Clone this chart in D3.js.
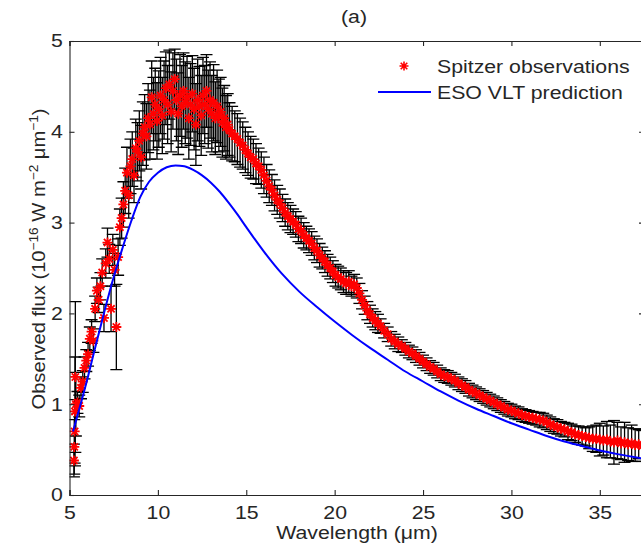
<!DOCTYPE html>
<html>
<head>
<meta charset="utf-8">
<script src="https://cdn.jsdelivr.net/npm/d3@7"></script>
<style>
  html, body { margin: 0; padding: 0; background: #fff; overflow: hidden; }
  svg { display: block; font-family: "Liberation Sans", Arial, Helvetica, sans-serif; }
</style>
</head>
<body>
<svg id="chart" width="641" height="551"></svg>
<script>
// ---------------- DATA ----------------
const title = "(a)";
const xLabel = "Wavelength (\u03bcm)";
const legendLabels = ["Spitzer observations", "ESO VLT prediction"];
const xTicks = [5, 10, 15, 20, 25, 30, 35];
const yTicks = [0, 1, 2, 3, 4, 5];

// Spitzer observations: wavelength (um), flux (1e-16 W m-2 um-1), error
const obsWavelength = [
  5.25,5.27,5.29,5.31,5.33,5.36,
  5.45,5.55,5.65,5.75,5.85,5.95,6.05,6.15,6.25,6.35,6.45,6.55,6.65,6.75,6.85,6.95,7.05,7.15,7.25,7.35,7.45,7.55,7.65,7.75,7.85,7.95,
  8.05,8.15,8.25,8.35,8.45,8.55,8.65,8.75,8.85,8.95,9.05,9.15,9.25,9.35,9.45,9.55,9.65,9.75,9.85,9.95,
  10.05,10.15,10.25,10.35,10.45,10.55,10.65,10.75,10.85,10.95,11.05,11.15,11.25,11.35,11.45,11.55,11.65,11.75,11.85,11.95,
  12.05,12.15,12.25,12.35,12.45,12.55,12.65,12.75,12.85,12.95,13.05,13.15,13.25,13.35,13.45,13.55,13.65,13.75,13.85,13.95,
  14.05,14.2,14.35,14.5,14.65,14.8,14.95,15.1,15.25,15.4,15.55,15.7,15.85,16.0,16.15,16.3,16.45,16.6,16.75,16.9,
  17.05,17.2,17.35,17.5,17.65,17.8,17.95,18.1,18.25,18.4,18.55,18.7,18.85,19.0,19.15,19.3,19.45,19.6,19.75,19.9,
  20.05,20.2,20.35,20.5,20.65,20.8,20.95,21.1,21.25,21.4,21.55,21.7,21.85,22.0,22.15,22.3,22.45,
  22.6,22.8,23.0,23.2,23.4,23.6,23.8,24.0,24.2,24.4,24.6,24.8,25.0,25.2,25.4,25.6,25.8,26.0,26.2,26.4,26.6,26.8,
  27.0,27.2,27.4,27.6,27.8,28.0,28.2,28.4,28.6,28.8,29.0,29.2,29.4,29.6,29.8,30.0,30.2,30.4,30.6,30.8,
  31.0,31.2,31.4,31.6,31.8,32.0,32.2,32.4,32.6,32.8,33.0,33.2,33.4,33.6,33.8,34.0,34.2,34.4,34.6,34.8,
  35.0,35.2,35.4,35.6,35.8,36.0,36.2,36.4,36.6,36.8,37.0,37.2,37.4
];
const obsFlux = [
  0.38,0.53,0.70,0.92,1.30,1.00,
  1.02,0.98,1.18,1.25,1.40,1.48,1.55,1.72,1.80,1.70,2.05,2.25,2.15,2.30,2.45,1.95,2.55,2.78,2.60,2.05,2.70,2.48,1.85,2.62,2.95,3.05,
  3.20,3.35,3.55,3.30,3.62,3.70,3.52,3.82,3.78,3.90,3.72,3.98,4.05,3.95,4.15,4.08,4.38,4.20,4.30,4.12,
  4.25,4.40,4.18,4.35,4.48,4.30,4.52,4.22,4.45,4.58,4.35,4.20,4.40,4.28,4.45,4.32,4.38,4.15,4.30,4.42,
  4.25,4.08,4.35,4.28,4.18,4.40,4.30,4.45,4.25,4.35,4.20,4.32,4.15,4.28,4.18,4.22,4.10,4.15,4.05,4.08,
  4.02,3.98,3.95,3.92,3.88,3.85,3.80,3.76,3.72,3.70,3.65,3.62,3.58,3.52,3.46,3.40,3.36,3.30,3.25,3.21,
  3.16,3.11,3.07,3.04,3.01,2.98,2.93,2.91,2.86,2.83,2.80,2.77,2.72,2.69,2.64,2.61,2.57,2.53,2.50,2.46,
  2.42,2.40,2.38,2.35,2.33,2.35,2.30,2.32,2.28,2.22,2.15,2.09,2.03,1.99,1.95,1.92,1.89,
  1.86,1.81,1.77,1.72,1.69,1.66,1.64,1.61,1.58,1.56,1.53,1.50,1.47,1.44,1.41,1.39,1.36,1.33,1.31,1.30,1.28,1.26,
  1.23,1.21,1.19,1.16,1.14,1.12,1.10,1.08,1.06,1.04,1.02,1.00,0.98,0.96,0.94,0.93,0.91,0.90,0.88,0.87,
  0.86,0.85,0.84,0.83,0.82,0.80,0.78,0.76,0.75,0.73,0.72,0.70,0.69,0.67,0.66,0.65,0.64,0.63,0.62,0.62,
  0.61,0.60,0.61,0.59,0.58,0.60,0.57,0.58,0.56,0.57,0.55,0.56,0.54
];
const obsError = [
  0.18,0.30,0.35,0.60,0.83,0.35,
  0.12,0.12,0.12,0.12,0.12,0.12,0.13,0.13,0.13,0.13,0.14,0.14,0.14,0.15,0.15,0.15,0.16,0.16,0.16,0.25,0.17,0.18,0.47,0.20,0.20,0.22,
  0.25,0.25,0.28,0.25,0.30,0.30,0.30,0.32,0.32,0.33,0.35,0.35,0.36,0.36,0.38,0.38,0.40,0.40,0.40,0.42,
  0.42,0.42,0.42,0.43,0.40,0.43,0.38,0.44,0.42,0.33,0.45,0.45,0.45,0.45,0.42,0.45,0.45,0.45,0.45,0.42,
  0.45,0.45,0.45,0.44,0.44,0.42,0.43,0.40,0.43,0.42,0.42,0.42,0.40,0.40,0.40,0.38,0.38,0.36,0.35,0.34,
  0.30,0.30,0.28,0.28,0.27,0.26,0.25,0.24,0.23,0.22,0.22,0.20,0.20,0.20,0.18,0.18,0.17,0.17,0.16,0.16,
  0.15,0.15,0.15,0.15,0.14,0.14,0.14,0.14,0.14,0.13,0.13,0.13,0.13,0.13,0.13,0.12,0.12,0.12,0.12,0.12,
  0.12,0.12,0.12,0.12,0.12,0.12,0.11,0.11,0.11,0.11,0.10,0.10,0.10,0.10,0.10,0.10,0.10,
  0.08,0.08,0.08,0.08,0.08,0.08,0.07,0.07,0.07,0.07,0.07,0.07,0.07,0.07,0.07,0.07,0.07,0.07,0.07,0.07,0.07,0.07,
  0.07,0.07,0.07,0.07,0.07,0.07,0.07,0.07,0.07,0.07,0.07,0.07,0.07,0.07,0.07,0.07,0.07,0.07,0.07,0.07,
  0.07,0.07,0.07,0.08,0.08,0.08,0.08,0.08,0.08,0.08,0.08,0.09,0.09,0.09,0.10,0.10,0.10,0.12,0.14,0.15,
  0.18,0.16,0.20,0.18,0.24,0.20,0.18,0.22,0.18,0.20,0.18,0.16,0.17
];

// ESO VLT prediction curve
const predWavelength = [5.2,5.5,6,6.5,7,7.5,8,8.5,9,9.5,10,10.5,11,11.5,12,12.5,13,13.5,14,14.5,15,16,17,18,19,20,21,22,23,24,25,26,27,28,29,30,31,32,33,34,35,36,37.5];
const predFlux = [0.70,0.91,1.27,1.66,2.04,2.40,2.72,3.02,3.28,3.45,3.55,3.61,3.63,3.62,3.58,3.52,3.44,3.34,3.22,3.09,2.95,2.68,2.44,2.24,2.07,1.91,1.76,1.62,1.49,1.36,1.25,1.14,1.04,0.95,0.87,0.79,0.72,0.65,0.59,0.54,0.49,0.45,0.40];

// ---------------- LAYOUT ----------------
(function () {
const svg = d3.select("#chart");
const pL = 69.5, pR = 644, pT = 41, pB = 495;
const x = d3.scaleLinear().domain([5, 37.5]).range([pL, pR]);
const y = d3.scaleLinear().domain([0, 5]).range([pB, pT]);
const axisColor = "#262626";
const font = 18.5;
const sx = "scale(1.15,1)";

svg.append("defs").append("clipPath").attr("id", "plotclip")
  .append("rect").attr("x", pL).attr("y", pT).attr("width", pR - pL).attr("height", pB - pT);

const plot = svg.append("g").attr("clip-path", "url(#plotclip)");

// error bars
const obs = obsWavelength.map((w, i) => ({ w, f: obsFlux[i], e: obsError[i] }));
const cap = 6;
const eb = plot.append("g").attr("stroke", "#000").attr("stroke-width", 1.3).attr("fill", "none");
obs.forEach(d => {
  const cx = x(d.w), y1 = y(d.f + d.e), y2 = y(Math.max(0, d.f - d.e));
  eb.append("line").attr("x1", cx).attr("x2", cx).attr("y1", y1).attr("y2", y2);
  eb.append("line").attr("x1", cx - cap).attr("x2", cx + cap).attr("y1", y1).attr("y2", y1);
  eb.append("line").attr("x1", cx - cap).attr("x2", cx + cap).attr("y1", y2).attr("y2", y2);
});

// asterisk markers
function asterisk(g, cx, cy, ms, md) {
  g.append("path").attr("d",
    `M${cx - ms},${cy}L${cx + ms},${cy}M${cx},${cy - ms}L${cx},${cy + ms}` +
    `M${cx - md},${cy - md}L${cx + md},${cy + md}M${cx - md},${cy + md}L${cx + md},${cy - md}`);
}
const mk = plot.append("g").attr("stroke", "#ff0000").attr("stroke-width", 1.8).attr("fill", "none");
obs.forEach(d => asterisk(mk, x(d.w), y(d.f), 5, 3.6));

// prediction curve
const line = d3.line().x((d, i) => x(predWavelength[i])).y(d => y(d)).curve(d3.curveMonotoneX);
plot.append("path").datum(predFlux).attr("d", line)
  .attr("fill", "none").attr("stroke", "#0000ff").attr("stroke-width", 2);

// ---------------- AXES ----------------
const gx = svg.append("g").attr("transform", `translate(0,${pB})`)
  .call(d3.axisBottom(x).tickValues(xTicks).tickSize(-5).tickPadding(10.5).tickFormat(d3.format("d")));
const gxt = svg.append("g").attr("transform", `translate(0,${pT})`)
  .call(d3.axisTop(x).tickValues(xTicks).tickSize(-5).tickFormat(""));
const gy = svg.append("g").attr("transform", `translate(${pL},0)`)
  .call(d3.axisLeft(y).tickValues(yTicks).tickSize(-5).tickPadding(5.7).tickFormat(d3.format("d")));
const gyr = svg.append("g").attr("transform", `translate(${pR},0)`)
  .call(d3.axisRight(y).tickValues(yTicks).tickSize(-5).tickFormat(""));
[gx, gxt, gy, gyr].forEach(g => {
  g.selectAll("path.domain").attr("stroke", axisColor).attr("stroke-width", 1.1);
  g.selectAll(".tick line").attr("stroke", axisColor).attr("stroke-width", 1.1);
  g.selectAll(".tick text").attr("fill", axisColor).attr("font-size", font).attr("transform", sx)
    .attr("font-family", "'Liberation Sans', Arial, sans-serif");
});

// ---------------- TEXT ----------------
svg.append("text").attr("transform", `translate(354,23) ${sx}`).attr("text-anchor", "middle")
  .attr("font-size", font).attr("fill", axisColor).text(title);

svg.append("text").attr("transform", `translate(357,539) ${sx}`).attr("text-anchor", "middle")
  .attr("font-size", font).attr("fill", axisColor).text(xLabel);

const yl = svg.append("text").attr("transform", `translate(45,259) rotate(-90) scale(1.09,1)`)
  .attr("text-anchor", "middle").attr("font-size", font).attr("fill", axisColor);
yl.append("tspan").text("Observed flux (10");
yl.append("tspan").attr("dy", -7).attr("font-size", 12.5).text("\u221216");
yl.append("tspan").attr("dy", 7).text(" W m");
yl.append("tspan").attr("dy", -7).attr("font-size", 12.5).text("\u22122");
yl.append("tspan").attr("dy", 7).text(" \u03bcm");
yl.append("tspan").attr("dy", -7).attr("font-size", 12.5).text("\u22121");
yl.append("tspan").attr("dy", 7).text(")");

// ---------------- LEGEND ----------------
const lg = svg.append("g");
asterisk(lg.append("g").attr("stroke", "#ff0000").attr("stroke-width", 1.6), 404, 66, 4.5, 3.3);
lg.append("line").attr("x1", 378).attr("x2", 431).attr("y1", 92).attr("y2", 92)
  .attr("stroke", "#0000ff").attr("stroke-width", 2);
lg.append("text").attr("transform", `translate(437,73) ${sx}`).attr("font-size", font).attr("fill", axisColor).text(legendLabels[0]);
lg.append("text").attr("transform", `translate(437,99) ${sx}`).attr("font-size", font).attr("fill", axisColor).text(legendLabels[1]);
})();
</script>
</body>
</html>
